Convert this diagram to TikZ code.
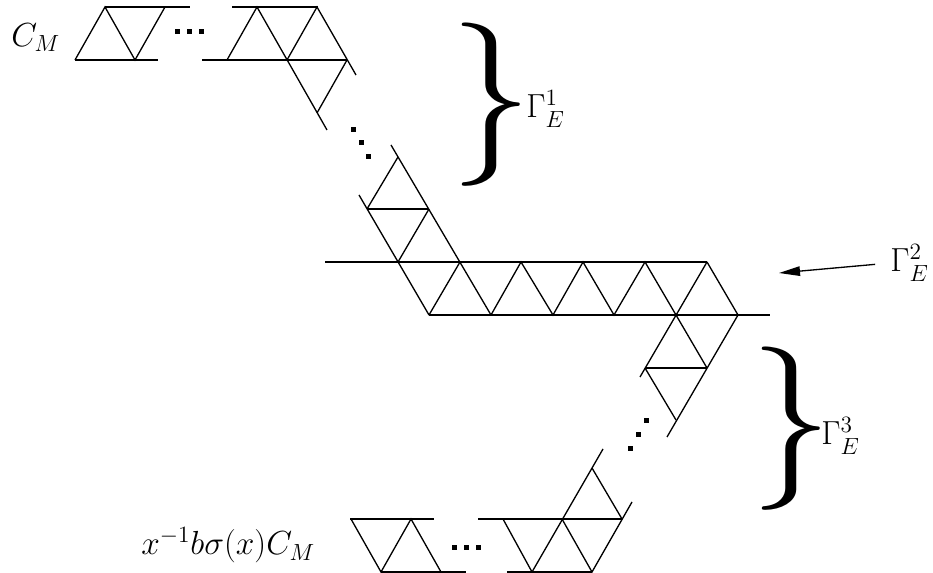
\RequirePackage{fix-cm}
\documentclass[tikz,border=0pt]{standalone}
\usepackage{amsmath,amssymb}
\usetikzlibrary{arrows.meta}

\begin{document}
\begin{tikzpicture}[
    x=0.02cm, y=-0.02cm,
    edge/.style={line width=0.75pt, black},
    lab/.style={font=\fontsize{19}{22}\selectfont, inner sep=0pt},
    brace/.style={font=\fontsize{93}{93}\selectfont, inner sep=0pt},
    arrow/.style={-{Triangle[length=0.42cm, width=0.19cm]}, line width=0.75pt, shorten <=0.3cm},
]
\useasboundingbox (0,0) rectangle (933,573);

% first copy of C_M
\draw[edge] (105,7) -- (190,7);
\draw[edge] (75,60) -- (158,60);
\draw[edge] (75,60) -- (105,7) -- (135,60) -- (165,7);
\draw[edge] (232,7) -- (318,7);
\draw[edge] (202,60) -- (347,60);
\draw[edge] (227,60) -- (257,7) -- (327,130);
\draw[edge] (287,60) -- (317,7) -- (356,75);
\draw[edge] (347,60) -- (317,113);

% middle strip
\draw[edge] (359,195) -- (429,315);
\draw[edge] (391,145) -- (491,315);
\draw[edge] (367,209) -- (429,209);
\draw[edge] (367,209) -- (398,157);
\draw[edge] (429,209) -- (398,262);
\draw[edge] (325,262) -- (707,262);
\draw[edge] (429,315) -- (770,315);
\draw[edge] (429,315) -- (460,262);
\draw[edge] (491,315) -- (521,262) -- (553,315) -- (583,262) -- (614,315) -- (645,262) -- (676,315);
\draw[edge] (707,262) -- (640,377);
\draw[edge] (707,262) -- (738,315) -- (667,437);
\draw[edge] (645,368) -- (707,368);
\draw[edge] (676,315) -- (707,368);
\draw[edge] (645,368) -- (676,420);

% second copy of C_M
\draw[edge] (350,519) -- (434,519);
\draw[edge] (381,572) -- (466,572);
\draw[edge] (351,519) -- (381,572) -- (411,519) -- (441,572);
\draw[edge] (478,519) -- (622,519);
\draw[edge] (507,572) -- (592,572);
\draw[edge] (503,519) -- (532,572) -- (603,449);
\draw[edge] (562,519) -- (592,572) -- (632,502);
\draw[edge] (592,468) -- (622,519);

% dots
\foreach \x/\y in {177/32, 189/32, 201/32, 353/130, 361/143, 368/157,
                   646/421, 638/435, 630/449, 454/548, 466/548, 478/548}
    \fill (\x-2.5,\y-2.5) rectangle ++(5,5);

\node[brace] (br1) at (491,105) {$\}$};
\node[brace] (br3) at (791,429) {$\}$};

\node[lab, anchor=base west] (cm) at (11,47) {$C_M$};
\node[lab, anchor=base west] (g1) at (526,118) {$\Gamma^1_E$};
\node[lab, anchor=base west] (g2) at (890,272) {$\Gamma^2_E$};
\node[lab, anchor=base west] (g3) at (821,445) {$\Gamma^3_E$};
\node[lab, anchor=base west] (cmb) at (141,555) {$x^{-1}b\sigma(x)C_M$};
\coordinate (g2tip) at (779,273);
\draw[arrow] (g2.west) -- (g2tip);
\end{tikzpicture}
\end{document}
